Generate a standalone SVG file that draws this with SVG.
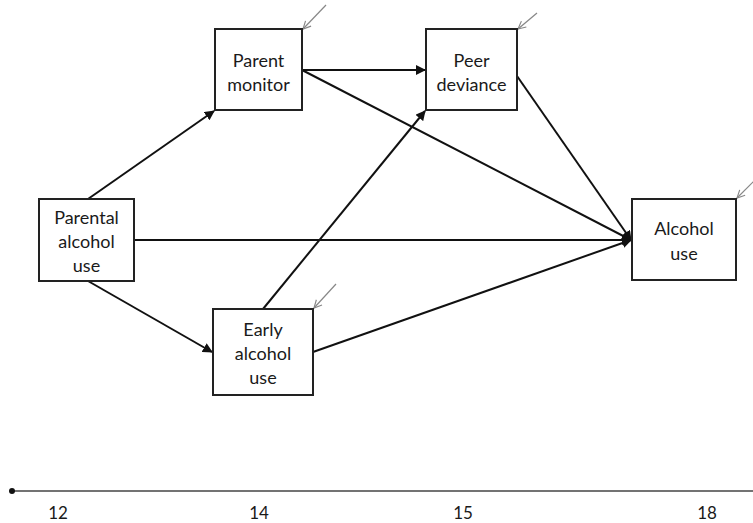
<svg xmlns="http://www.w3.org/2000/svg" width="753" height="523" viewBox="0 0 753 523">
<defs>
<style>
.box{fill:#fff;stroke:#222;stroke-width:2}
.lbl{font-family:Lato,"Liberation Sans",sans-serif;font-size:18px;fill:#1a1a1a;text-anchor:middle}
.edge{stroke:#111;stroke-width:2;fill:none;marker-end:url(#ah)}
.err{stroke:#888;stroke-width:1.2;fill:none;marker-end:url(#ah2)}
.tick{font-family:Lato,"Liberation Sans",sans-serif;font-size:17px;fill:#1a1a1a;text-anchor:middle}
</style>
<marker id="ah" viewBox="0 0 10 10" refX="9" refY="5" markerWidth="5" markerHeight="5" orient="auto" markerUnits="strokeWidth">
<path d="M0,0 L10,5 L0,10 z" fill="#111"/>
</marker>
<marker id="ah2" viewBox="0 0 10 10" refX="9" refY="5" markerWidth="8" markerHeight="8" orient="auto" markerUnits="strokeWidth">
<path d="M1,1 L9,5 L1,9" fill="none" stroke="#888" stroke-width="1.2"/>
</marker>
</defs>
<g id="connectors">
<line class="edge" x1="88" y1="199" x2="214" y2="111"/>
<line class="edge" x1="302" y1="70" x2="425" y2="70"/>
<line class="edge" x1="302" y1="70" x2="631" y2="240"/>
<line class="edge" x1="517" y1="76" x2="631" y2="240"/>
<line class="edge" x1="134" y1="240" x2="631" y2="240"/>
<line class="edge" x1="88" y1="281" x2="212" y2="352"/>
<line class="edge" x1="263" y1="309" x2="425" y2="111"/>
<line class="edge" x1="313" y1="352" x2="631" y2="240"/>
<line class="err" x1="326" y1="5" x2="303" y2="29"/>
<line class="err" x1="537" y1="13" x2="518" y2="29"/>
<line class="err" x1="755" y1="180" x2="737" y2="198"/>
<line class="err" x1="336" y1="284" x2="314" y2="308"/>
</g>
<g id="parental">
<rect class="box" x="39" y="199" width="95" height="82"/>
<text class="lbl" x="86.5" y="224">Parental</text>
<text class="lbl" x="86.5" y="248">alcohol</text>
<text class="lbl" x="86.5" y="272">use</text>
</g>
<g id="monitor">
<rect class="box" x="215" y="29" width="87" height="81"/>
<text class="lbl" x="258.5" y="67">Parent</text>
<text class="lbl" x="258.5" y="91">monitor</text>
</g>
<g id="peer">
<rect class="box" x="426" y="29" width="91" height="81"/>
<text class="lbl" x="471.5" y="67">Peer</text>
<text class="lbl" x="471.5" y="91">deviance</text>
</g>
<g id="early">
<rect class="box" x="213" y="309" width="100" height="86"/>
<text class="lbl" x="263" y="336">Early</text>
<text class="lbl" x="263" y="360">alcohol</text>
<text class="lbl" x="263" y="384">use</text>
</g>
<g id="alcohol">
<rect class="box" x="632" y="199" width="104" height="81"/>
<text class="lbl" x="684" y="235">Alcohol</text>
<text class="lbl" x="684" y="260">use</text>
</g>
<g id="timeline">
<line x1="12" y1="491" x2="753" y2="491" stroke="#444" stroke-width="1.5"/>
<circle cx="12" cy="491" r="3" fill="#111"/>
<text class="tick" x="58" y="519">12</text>
<text class="tick" x="259" y="519">14</text>
<text class="tick" x="463" y="519">15</text>
<text class="tick" x="707" y="519">18</text>
</g>
</svg>
